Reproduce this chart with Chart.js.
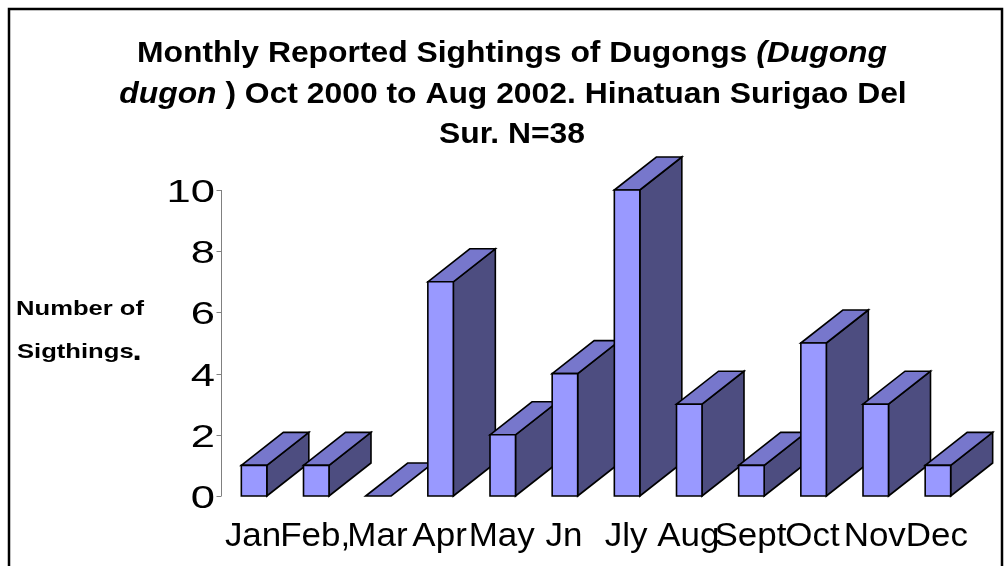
<!DOCTYPE html>
<html>
<head>
<meta charset="utf-8">
<script src="https://cdn.jsdelivr.net/npm/chart.js@4/dist/chart.umd.min.js"></script>
<style>
  html, body { margin: 0; padding: 0; background: #ffffff; }
  #wrap { width: 1006px; height: 566px; position: relative; }
</style>
</head>
<body>
<div id="wrap"><canvas id="c" width="1006" height="566"></canvas></div>
<script>
// ---- data ----
const categories = ['Jan', 'Feb,', 'Mar', 'Apr', 'May', 'Jn', 'Jly', 'Aug', 'Sept', 'Oct', 'Nov', 'Dec'];
const sightings = [1, 1, 0, 7, 2, 4, 10, 3, 1, 5, 3, 1];
const yTicks = [0, 2, 4, 6, 8, 10];
const titleLine1 = [['Monthly Reported Sightings of Dugongs ', false], ['(Dugong', true]];
const titleLine2 = [['dugon', true], [' ) Oct 2000 to Aug 2002. Hinatuan Surigao Del', false]];
const titleLine3 = [['Sur. N=38', false]];
const yTitleLines = ['Number of', 'Sigthings', '.'];

// ---- styles ----
const FAMILY = '"Liberation Sans", Arial, sans-serif';
const FRONT = '#9999FF';
const SIDE = '#4D4D80';
const TOP = '#7777CC';
const DX = 42, DY = -33;

const framePlugin = {
  id: 'frame',
  beforeDraw(chart) {
    const ctx = chart.ctx;
    ctx.save();
    ctx.fillStyle = '#ffffff';
    ctx.fillRect(0, 0, chart.width, chart.height);
    ctx.strokeStyle = '#000000';
    ctx.lineWidth = 2.5;
    ctx.strokeRect(9, 9, 993, 600);
    ctx.restore();
  }
};

const bars3dPlugin = {
  id: 'bars3d',
  afterDatasetsDraw(chart) {
    const ctx = chart.ctx;
    const meta = chart.getDatasetMeta(0);
    ctx.save();
    ctx.lineWidth = 1.6;
    ctx.strokeStyle = '#000000';
    ctx.lineJoin = 'miter';
    meta.data.forEach((bar) => {
      const p = bar.getProps(['x', 'y', 'base', 'width'], true);
      const L = p.x - p.width / 2, R = p.x + p.width / 2;
      const T = Math.min(p.y, p.base), B = Math.max(p.y, p.base);
      if (B > T) {
        ctx.beginPath();
        ctx.moveTo(R, T); ctx.lineTo(R + DX, T + DY); ctx.lineTo(R + DX, B + DY); ctx.lineTo(R, B); ctx.closePath();
        ctx.fillStyle = SIDE; ctx.fill(); ctx.stroke();
      }
      ctx.beginPath();
      ctx.moveTo(L, T); ctx.lineTo(L + DX, T + DY); ctx.lineTo(R + DX, T + DY); ctx.lineTo(R, T); ctx.closePath();
      ctx.fillStyle = TOP; ctx.fill(); ctx.stroke();
      if (B > T) {
        ctx.beginPath();
        ctx.rect(L, T, R - L, B - T);
        ctx.fillStyle = FRONT; ctx.fill(); ctx.stroke();
      }
    });
    ctx.restore();
  }
};

function drawScaled(ctx, text, x, y, sx, align) {
  ctx.save();
  ctx.translate(x, y);
  ctx.scale(sx, 1);
  ctx.textAlign = align;
  ctx.fillText(text, 0, 0);
  ctx.restore();
}

const textPlugin = {
  id: 'texts',
  afterDraw(chart) {
    const ctx = chart.ctx;
    const xs = chart.scales.x, ys = chart.scales.y;
    ctx.save();
    ctx.fillStyle = '#000000';
    ctx.textBaseline = 'alphabetic';

    // Y axis line and ticks
    const ax = 221.5;
    ctx.strokeStyle = '#808080';
    ctx.lineWidth = 1;
    ctx.beginPath();
    ctx.moveTo(ax, ys.getPixelForValue(yTicks[yTicks.length - 1]));
    ctx.lineTo(ax, ys.getPixelForValue(yTicks[0]));
    yTicks.forEach(v => {
      const py = Math.round(ys.getPixelForValue(v)) + 0.5;
      ctx.moveTo(ax - 5, py); ctx.lineTo(ax, py);
    });
    ctx.stroke();

    // tick labels
    ctx.font = '32px ' + FAMILY;
    yTicks.forEach(v => {
      drawScaled(ctx, String(v), 215, ys.getPixelForValue(v) + 12, 1.36, 'right');
    });

    // x labels
    ctx.font = '33px ' + FAMILY;
    categories.forEach((c, i) => {
      drawScaled(ctx, c, xs.getPixelForValue(i) - 1, 546, 1.06, 'center');
    });

    // y title
    ctx.font = 'bold 21px ' + FAMILY;
    const w0 = ctx.measureText(yTitleLines[0]).width;
    const ysx = 128 / w0;
    drawScaled(ctx, yTitleLines[0], 80, 315, ysx, 'center');
    const w1 = ctx.measureText(yTitleLines[1]).width * ysx;
    const x1 = 17;
    drawScaled(ctx, yTitleLines[1], x1, 358, ysx, 'left');
    ctx.font = 'bold 30px ' + FAMILY;
    drawScaled(ctx, yTitleLines[2], x1 + w1 - 1, 360, 1.1, 'left');

    // title
    const fontN = 'bold 30px ' + FAMILY;
    const fontI = 'italic bold 30px ' + FAMILY;
    const measure = (segs) => segs.reduce((s, seg) => { ctx.font = seg[1] ? fontI : fontN; return s + ctx.measureText(seg[0]).width; }, 0);
    const tsx = 750 / measure(titleLine1);
    const drawLine = (segs, cx, by) => {
      const w = measure(segs) * tsx;
      let x = cx - w / 2;
      segs.forEach(seg => {
        ctx.font = seg[1] ? fontI : fontN;
        const sw = ctx.measureText(seg[0]).width * tsx;
        drawScaled(ctx, seg[0], x, by, tsx, 'left');
        x += sw;
      });
    };
    drawLine(titleLine1, 512, 62);
    drawLine(titleLine2, 513, 103);
    drawLine(titleLine3, 512, 143);
    ctx.restore();
  }
};

new Chart(document.getElementById('c'), {
  type: 'bar',
  data: {
    labels: categories,
    datasets: [{
      data: sightings,
      backgroundColor: 'rgba(0,0,0,0)',
      borderWidth: 0,
      barPercentage: 0.41,
      categoryPercentage: 1.0
    }]
  },
  options: {
    responsive: false,
    animation: false,
    events: [],
    layout: { padding: { left: 223, right: 37, top: 190, bottom: 70 } },
    plugins: { legend: { display: false }, title: { display: false }, tooltip: { enabled: false } },
    scales: {
      x: { display: false, offset: true },
      y: { display: false, min: 0, max: 10 }
    }
  },
  plugins: [framePlugin, bars3dPlugin, textPlugin]
});
</script>
</body>
</html>
